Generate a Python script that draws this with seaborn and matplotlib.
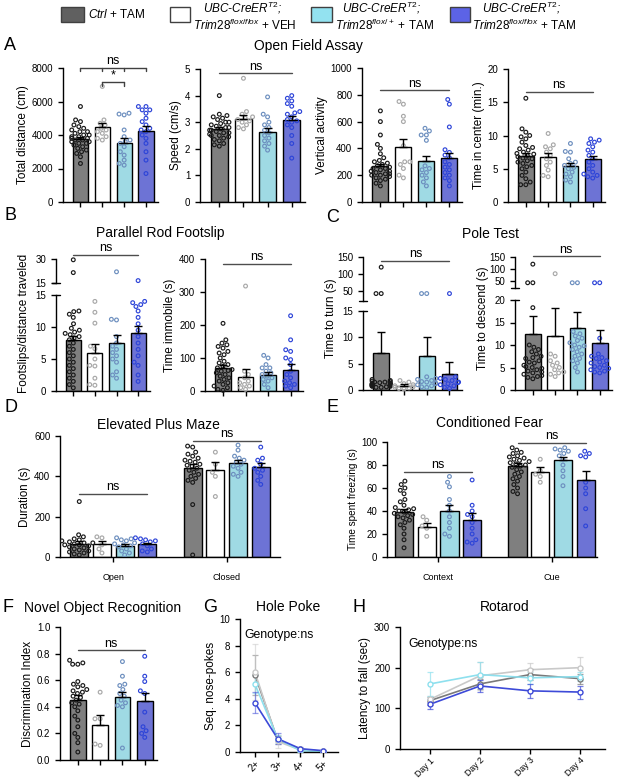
import numpy as np
import pandas as pd
import matplotlib
matplotlib.use("Agg")
import matplotlib.pyplot as plt
from matplotlib.collections import PathCollection
from matplotlib.patches import Rectangle
import seaborn as sns

sns.set_style("ticks")
plt.rcParams['font.family'] = ['Liberation Sans', 'DejaVu Sans']
plt.rcParams['mathtext.fontset'] = 'custom'
plt.rcParams['mathtext.rm'] = 'Liberation Sans'
plt.rcParams['mathtext.it'] = 'Liberation Sans:italic'
plt.rcParams['mathtext.bf'] = 'Liberation Sans:bold'
for k in ['axes.edgecolor', 'xtick.color', 'ytick.color', 'text.color', 'axes.labelcolor']:
    plt.rcParams[k] = 'black'
plt.rcParams['axes.linewidth'] = 1.0
plt.rcParams['xtick.major.width'] = 1.0
plt.rcParams['ytick.major.width'] = 1.0
plt.rcParams['xtick.major.size'] = 3.5
plt.rcParams['ytick.major.size'] = 3.5
plt.rcParams['xtick.labelsize'] = 7
plt.rcParams['ytick.labelsize'] = 7
plt.rcParams['axes.labelsize'] = 8.5
plt.rcParams['axes.labelpad'] = 2

# ---------------- data ----------------
GENO = ["Ctrl", "VEH", "Het", "Hom"]
BAR_COLORS = ["#7f7f7f", "#ffffff", "#93e2f0", "#5c63e6"]
PT_COLORS = ["#1a1a1a", "#a8a8a8", "#6d8fbf", "#2e45d8"]
LINE_COLORS = ["#7a7a7a", "#c9c9c9", "#8ee0ee", "#3d4ad8"]
LEG_COLORS = ["#606060", "#ffffff", "#93e2f0", "#5c63e6"]

# A: Open field
dist_mean = [3750, 4450, 3550, 4250]
dist_sem = [150, 270, 260, 260]
dist_pts = [
    [5700, 4900, 4800, 4600, 4500, 4400, 4300, 4200, 4200, 4100, 4000, 4000, 3900, 3900, 3800,
     3800, 3700, 3700, 3600, 3600, 3500, 3500, 3400, 3300, 3200, 3100, 3000, 2900, 2700, 2300],
    [6900, 4900, 4700, 4600, 4400, 4300, 4200, 4100, 3900, 3800, 3700],
    [5300, 5250, 5200, 4300, 3900, 3700, 3600, 3500, 3300, 3000, 2800, 2500, 2300, 2200],
    [5700, 5700, 5500, 5500, 5300, 5000, 4800, 4600, 4400, 4300, 4200, 4000, 3800, 3500, 3000, 2500, 1700]]

speed_mean = [2.75, 3.12, 2.62, 3.08]
speed_sem = [0.07, 0.15, 0.15, 0.15]
speed_pts = [
    [4.0, 3.3, 3.25, 3.2, 3.15, 3.1, 3.0, 3.0, 2.95, 2.9, 2.85, 2.8, 2.8, 2.75, 2.7, 2.7, 2.65,
     2.6, 2.6, 2.55, 2.5, 2.5, 2.45, 2.4, 2.35, 2.3, 2.2, 2.15, 2.1],
    [4.65, 3.4, 3.3, 3.2, 3.15, 3.1, 3.05, 3.0, 2.9, 2.8, 2.75],
    [3.95, 3.3, 3.2, 3.0, 2.9, 2.8, 2.7, 2.6, 2.5, 2.4, 2.3, 2.2, 2.1, 1.95],
    [4.0, 3.9, 3.8, 3.7, 3.6, 3.4, 3.35, 3.3, 3.2, 3.1, 3.05, 3.0, 2.9, 2.8, 2.5, 2.2, 1.65]]

vert_mean = [266, 408, 303, 328]
vert_sem = [20, 60, 40, 40]
vert_pts = [
    [680, 600, 500, 430, 400, 360, 330, 310, 300, 290, 280, 270, 260, 250, 250, 240, 230, 230,
     220, 210, 210, 200, 200, 190, 180, 170, 160, 140, 120],
    [750, 730, 640, 600, 420, 300, 300, 280, 250, 200, 180],
    [550, 530, 500, 500, 460, 270, 250, 240, 220, 200, 180, 150, 120],
    [765, 730, 560, 390, 370, 350, 330, 300, 280, 260, 240, 220, 200, 180, 160, 120]]

center_mean = [6.9, 6.7, 5.35, 6.5]
center_sem = [0.45, 0.6, 0.45, 0.45]
center_pts = [
    [15.6, 11.0, 10.5, 10.0, 9.8, 9.5, 9.0, 8.5, 8.2, 8.0, 7.8, 7.5, 7.3, 7.2, 7.0, 6.8, 6.6,
     6.5, 6.2, 6.0, 5.8, 5.5, 5.3, 5.0, 4.5, 4.0, 3.5, 3.0, 2.6, 2.6],
    [10.3, 8.6, 8.3, 8.0, 7.5, 7.0, 6.5, 6.0, 5.5, 4.8, 4.0, 3.8],
    [8.8, 7.6, 7.5, 6.5, 6.0, 5.8, 5.5, 5.2, 5.0, 4.5, 4.2, 3.8, 3.3, 3.0],
    [9.5, 9.3, 9.0, 8.8, 8.3, 7.8, 7.5, 7.0, 6.5, 6.0, 5.5, 5.0, 4.5, 4.2, 4.0, 3.8, 3.6]]

# B: Parallel rod footslip
slip_mean = [8.0, 6.0, 7.5, 9.1]
slip_sem = [0.6, 1.35, 1.2, 1.0]
slip_pts = [
    [29.5, 21.5, 12.4, 12.5, 12.0, 11.5, 10.5, 9.8, 9.5, 9.2, 9.0, 8.8, 8.5, 8.3, 8.0, 7.5, 7.0,
     6.5, 6.0, 5.5, 5.0, 4.5, 4.0, 3.5, 3.0, 2.5, 2.0, 1.5, 1.0, 0.5],
    [14.0, 12.3, 10.6, 7.0, 6.6, 5.0, 4.0, 3.9, 2.0, 1.0, 0.9],
    [22.0, 11.2, 11.1, 8.5, 7.5, 7.0, 6.5, 6.0, 5.5, 5.0, 4.5, 3.0, 2.5, 2.0],
    [16.5, 14.0, 13.8, 13.5, 13.2, 12.5, 11.5, 10.5, 9.5, 8.5, 7.5, 6.5, 5.5, 4.5, 4.0, 2.5, 1.5]]

immob_mean = [70, 42, 47, 65]
immob_sem = [10, 26, 10, 18]
immob_pts = [
    [205, 155, 145, 140, 135, 130, 120, 115, 110, 100, 90, 85, 80, 75, 70, 65, 62, 60, 55, 50,
     45, 40, 35, 30, 25, 20, 15, 10, 5, 2],
    [318, 60, 50, 40, 30, 25, 20, 15, 10, 5],
    [108, 100, 80, 70, 70, 60, 55, 50, 45, 40, 35, 30, 20, 10],
    [228, 155, 125, 120, 100, 95, 80, 60, 50, 40, 30, 25, 20, 15, 10]]

# C: Pole test
turn_mean = [7.0, 0.8, 6.4, 3.0]
turn_sem = [4.1, 0.3, 3.7, 2.3]
turn_pts = [
    [120, 42, 42, 2.0, 1.8, 1.7, 1.6, 1.5, 1.5, 1.4, 1.3, 1.2, 1.2, 1.1, 1.0, 1.0, 0.9, 0.9,
     0.8, 0.8, 0.7, 0.7, 0.6, 0.5, 0.5],
    [1.8, 1.5, 1.2, 1.0, 0.8, 0.6, 0.5, 0.4, 0.3, 0.2],
    [42, 42, 2.5, 2.2, 2.0, 1.8, 1.6, 1.5, 1.3, 1.2, 1.0, 0.8, 0.6, 0.5],
    [42, 2.5, 2.2, 2.0, 1.8, 1.5, 1.4, 1.2, 1.0, 0.8, 0.5, 0.3]]

descend_mean = [12.4, 11.9, 13.7, 10.5]
descend_sem = [4.0, 6.3, 3.6, 2.9]
descend_pts = [
    [120, 42, 42, 18.3, 10.0, 9.5, 9.0, 8.5, 8.0, 7.5, 7.2, 7.0, 6.5, 6.2, 6.0, 5.5, 5.2, 5.0,
     4.8, 4.5, 4.2, 4.0, 3.8, 3.5, 3.2, 3.0, 2.8, 2.5],
    [80, 8.0, 7.5, 6.5, 6.0, 5.5, 5.0, 4.5, 4.0, 3.8, 3.5, 3.0],
    [42, 42, 13.0, 12.5, 12.0, 11.5, 11.0, 10.5, 10.0, 9.8, 9.5, 9.0, 8.5, 8.0, 7.5, 7.0, 6.5,
     6.0, 5.0, 4.0],
    [42, 42, 11.5, 8.0, 7.5, 7.2, 7.0, 6.5, 6.2, 6.0, 5.5, 5.2, 5.0, 4.8, 4.5, 4.2, 4.0, 3.8]]

# D: Elevated plus maze
epm_zones = ["Open", "Closed"]
epm_open_mean = [66, 66, 56, 63]
epm_open_sem = [12, 15, 10, 8]
epm_closed_mean = [441, 430, 465, 444]
epm_closed_sem = [20, 40, 15, 20]
epm_open_pts = [
    [275, 110, 100, 90, 85, 80, 75, 70, 70, 65, 60, 60, 55, 50, 45, 40, 35, 30, 25, 20, 15, 10],
    [100, 95, 60, 40, 20],
    [95, 90, 85, 80, 70, 65, 60, 55, 50, 40, 30, 20, 10],
    [95, 90, 85, 80, 75, 65, 55, 40, 30, 25]]
epm_closed_pts = [
    [550, 545, 520, 510, 500, 490, 480, 475, 470, 460, 455, 450, 440, 430, 420, 410, 400, 390,
     380, 370, 260, 10],
    [520, 460, 420, 400, 300],
    [555, 530, 500, 490, 480, 470, 460, 450, 440, 420, 410, 400],
    [545, 490, 480, 460, 440, 430, 420, 400, 380, 360]]

# E: Conditioned fear
fear_zones = ["Context", "Cue"]
fear_context_mean = [39, 26, 40, 32.5]
fear_context_sem = [3, 3.5, 5, 5.5]
fear_cue_mean = [79, 74, 84, 67]
fear_cue_sem = [2.5, 4, 3, 8]
fear_context_pts = [
    [66, 63, 60, 58, 55, 50, 48, 45, 43, 42, 41, 40, 39, 38, 37, 36, 35, 34, 32, 30, 28, 25,
     20, 15, 8],
    [35, 32, 27, 25, 18],
    [70, 65, 61, 50, 45, 40, 35, 30, 25, 20, 18],
    [67, 45, 40, 37, 35, 30, 25, 20, 15, 13, 12]]
fear_cue_pts = [
    [95, 93, 91, 90, 88, 87, 86, 85, 84, 83, 82, 81, 80, 79, 78, 76, 74, 72, 70, 68, 66, 63,
     60, 57, 55],
    [85, 75, 72, 70, 65],
    [95, 94, 93, 92, 90, 88, 85, 80, 75, 70, 62],
    [92, 90, 88, 87, 65, 60, 55, 42, 27]]

# F: Novel object recognition
nor_mean = [0.45, 0.26, 0.47, 0.44]
nor_sem = [0.035, 0.075, 0.045, 0.065]
nor_pts = [
    [0.75, 0.73, 0.72, 0.72, 0.59, 0.57, 0.56, 0.55, 0.53, 0.52, 0.51, 0.50, 0.48, 0.47, 0.45,
     0.43, 0.42, 0.40, 0.37, 0.33, 0.30, 0.25, 0.20, 0.17, 0.13, 0.06],
    [0.51, 0.31, 0.31, 0.12, 0.11],
    [0.74, 0.63, 0.57, 0.56, 0.53, 0.50, 0.48, 0.45, 0.43, 0.41, 0.40, 0.09],
    [0.78, 0.63, 0.59, 0.52, 0.50, 0.36, 0.25, 0.22, 0.20, 0.17]]

# G: Hole poke
poke_x = ["2+", "3+", "4+", "5+"]
poke_mean = [[5.8, 0.9, 0.2, 0.05], [6.0, 0.8, 0.15, 0.05], [5.1, 1.0, 0.1, 0.02], [3.7, 1.0, 0.25, 0.1]]
poke_sem = [[1.5, 0.3, 0.1, 0.05], [2.1, 0.5, 0.1, 0.05], [0.7, 0.3, 0.08, 0.03], [0.8, 0.4, 0.1, 0.05]]

# H: Rotarod
rota_x = ["Day 1", "Day 2", "Day 3", "Day 4"]
rota_mean = [[119, 160, 183, 173], [122, 180, 195, 200], [160, 183, 175, 178], [110, 155, 143, 140]]
rota_sem = [[10, 12, 14, 12], [8, 35, 17, 26], [30, 32, 15, 12], [12, 15, 17, 16]]

# ---------------- helpers ----------------
W, H = 617, 781
fig = plt.figure(figsize=(W / 100, H / 100), dpi=100)
BAR_PAL = dict(zip(GENO, BAR_COLORS))
PT_PAL = dict(zip(GENO, PT_COLORS))
LINE_PAL = dict(zip(GENO, LINE_COLORS))
PT_SIZE = 2.7
XLIM = (-0.8, 3.55)


def add_ax(x0, y0, x1, y1):
    return fig.add_axes([x0 / W, 1 - y1 / H, (x1 - x0) / W, (y1 - y0) / H])


def ftext(x, y, s, **kw):
    kw.setdefault('ha', 'center')
    kw.setdefault('va', 'center')
    return fig.text(x / W, 1 - y / H, s, **kw)


def long_df(pts, groups=GENO):
    rows = [(g, v) for g, vals in zip(groups, pts) for v in vals]
    return pd.DataFrame(rows, columns=['g', 'v'])


def hollow(ax, start):
    for c in ax.collections[start:]:
        if isinstance(c, PathCollection):
            fc = c.get_facecolors()
            if len(fc):
                c.set_edgecolors(fc)
                c.set_facecolors('none')
                c.set_linewidths(0.85)


def draw_points(ax, pts, lo=-np.inf, hi=np.inf):
    df = long_df(pts)
    df = df[(df.v >= lo) & (df.v < hi)]
    n0 = len(ax.collections)
    sns.swarmplot(data=df, x='g', y='v', hue='g', order=GENO, hue_order=GENO, palette=PT_PAL,
                  size=PT_SIZE, ax=ax, legend=False, warn_thresh=1, zorder=3, clip_on=False)
    hollow(ax, n0)


def draw_bars(ax, means, sems):
    sns.barplot(x=GENO, y=means, hue=GENO, order=GENO, hue_order=GENO, palette=BAR_PAL,
                edgecolor='black', linewidth=1.0, width=0.7, errorbar=None, legend=False, ax=ax, zorder=1)
    return sems


def draw_err(ax, xs, means, sems):
    ax.errorbar(xs, means, yerr=[np.zeros(len(sems)), sems], fmt='none', ecolor='black',
                elinewidth=1, capsize=3, capthick=1, zorder=4)


def finish(ax, ylim, yticks, xlim=XLIM, ylabel=None, bottom=True):
    ax.set_ylim(ylim)
    ax.set_yticks(yticks)
    ax.set_xlim(xlim)
    ax.set_xlabel('')
    ax.set_ylabel(ylabel if ylabel else '')
    sns.despine(ax=ax)
    if bottom:
        ax.set_xticks(range(4))
        ax.set_xticklabels([])
    else:
        ax.spines['bottom'].set_visible(False)
        ax.tick_params(axis='x', bottom=False, labelbottom=False)


def ns_line(ax, x0, x1, y, txt='ns', color='0.3', ticks=(), tlen=0, fs=9):
    ax.plot([x0, x1], [y, y], color=color, lw=1, clip_on=False, zorder=5)
    for t in ticks:
        ax.plot([t, t], [y, y - tlen], color=color, lw=1, clip_on=False, zorder=5)
    ax.annotate(txt, ((x0 + x1) / 2, y), xytext=(0, 0.5), textcoords='offset points',
                ha='center', va='bottom', fontsize=fs, annotation_clip=False)


def break_mark(ax, yv, left=True):
    xs = [-0.045 if left else 0, 0.045]
    ax.plot(xs, [yv, yv], transform=ax.get_yaxis_transform(), color='black', lw=1, clip_on=False)


def simple_bar_panel(rect, means, sems, pts, ylim, yticks, ylabel):
    ax = add_ax(*rect)
    draw_bars(ax, means, sems)
    draw_points(ax, pts)
    draw_err(ax, range(4), means, sems)
    finish(ax, ylim, yticks, ylabel=ylabel)
    return ax


def broken_panel(rect_up, rect_lo, means, sems, pts, split, ylim_up, yt_up, ylim_lo, yt_lo, up_break):
    au = add_ax(*rect_up)
    al = add_ax(*rect_lo)
    draw_bars(al, means, sems)
    draw_points(al, pts, hi=split)
    draw_err(al, range(4), means, sems)
    finish(al, ylim_lo, yt_lo)
    draw_points(au, pts, lo=split)
    finish(au, ylim_up, yt_up, bottom=False)
    break_mark(au, up_break, left=True)
    break_mark(al, ylim_lo[1], left=False)
    return au, al


def grouped_panel(rect, zones, means, sems, pts, ylim, yticks, xlim, ylabel, lfs):
    ax = add_ax(*rect)
    mdf = pd.DataFrame([(z, g, m) for z, ms in zip(zones, means) for g, m in zip(GENO, ms)],
                       columns=['zone', 'g', 'v'])
    sns.barplot(data=mdf, x='zone', y='v', hue='g', order=zones, hue_order=GENO, palette=BAR_PAL,
                width=0.8, gap=0.2, errorbar=None, edgecolor='black', linewidth=1.0, legend=False,
                ax=ax, zorder=1)
    pdf = pd.DataFrame([(z, g, v) for z, pz in zip(zones, pts) for g, vals in zip(GENO, pz) for v in vals],
                       columns=['zone', 'g', 'v'])
    n0 = len(ax.collections)
    sns.swarmplot(data=pdf, x='zone', y='v', hue='g', order=zones, hue_order=GENO, dodge=True,
                  palette=PT_PAL, size=PT_SIZE, legend=False, warn_thresh=1, ax=ax, zorder=3)
    hollow(ax, n0)
    for i, (ms, ss) in enumerate(zip(means, sems)):
        draw_err(ax, i + (np.arange(4) - 1.5) * 0.2, ms, ss)
    ax.set_ylim(ylim)
    ax.set_yticks(yticks)
    ax.set_xlim(xlim)
    ax.set_xticks(range(len(zones)))
    ax.set_xticklabels(zones, fontsize=6.5)
    ax.tick_params(axis='x', pad=8)
    ax.set_xlabel('')
    ax.set_ylabel(ylabel, fontsize=lfs)
    sns.despine(ax=ax)
    return ax


def line_panel(rect, xlabels, means, sems, ylim, yticks, xlim, ylabel, ealpha, xfs):
    ax = add_ax(*rect)
    df = pd.DataFrame([(i, m, g) for g, ms in zip(GENO, means) for i, m in enumerate(ms)],
                      columns=['x', 'y', 'g'])
    sns.lineplot(data=df, x='x', y='y', hue='g', hue_order=GENO, palette=LINE_PAL, legend=False,
                 ax=ax, linewidth=1.2)
    for k in range(4):
        ax.errorbar(range(4), means[k], yerr=sems[k], fmt='none', ecolor=LINE_COLORS[k],
                    elinewidth=0.9, capsize=2.5, capthick=0.9, alpha=ealpha, zorder=2)
        ax.plot(range(4), means[k], 'o', ms=3.6, mfc='white', mec=LINE_COLORS[k], mew=1, zorder=4)
    ax.set_ylim(ylim)
    ax.set_yticks(yticks)
    ax.set_xlim(xlim)
    ax.set_xticks(range(4))
    ax.set_xticklabels(xlabels, rotation=45, ha='right', rotation_mode='anchor', fontsize=xfs)
    ax.tick_params(axis='x', pad=1.5)
    ax.set_xlabel('')
    ax.set_ylabel(ylabel)
    sns.despine(ax=ax)
    return ax


# ---------------- Panel A ----------------
a1 = simple_bar_panel((63, 68, 158, 202), dist_mean, dist_sem, dist_pts, (0, 8000),
                      [0, 2000, 4000, 6000, 8000], "Total distance (cm)")
ns_line(a1, 0, 3, 8000, color='0.25', ticks=[0, 1, 2, 3], tlen=200)
ns_line(a1, 1, 2, 7150, txt='*', color='0.25', ticks=[1, 2], tlen=200)
a2 = simple_bar_panel((200, 69, 305, 202), speed_mean, speed_sem, speed_pts, (0, 5),
                      [0, 1, 2, 3, 4, 5], "Speed (cm/s)")
ns_line(a2, 0, 3, 4.84)
a3 = simple_bar_panel((362, 68, 462, 202), vert_mean, vert_sem, vert_pts, (0, 1000),
                      [0, 200, 400, 600, 800, 1000], "Vertical activity")
ns_line(a3, 0, 3, 833)
a4 = simple_bar_panel((508, 69, 605, 202), center_mean, center_sem, center_pts, (0, 20),
                      [0, 5, 10, 15, 20], "Time in center (min.)")
ns_line(a4, 0, 3, 16.6)

# ---------------- Panel B ----------------
b1u, b1l = broken_panel((56, 259, 150, 283), (56, 295, 150, 391), slip_mean, slip_sem, slip_pts,
                        15, (15, 30), [15, 30], (0, 15), [0, 5, 10, 15], 15)
ns_line(b1u, 0, 3, 32.5)
b2 = simple_bar_panel((205, 259, 303, 391), immob_mean, immob_sem, immob_pts, (0, 400),
                      [0, 100, 200, 300, 400], "Time immobile (s)")
ns_line(b2, 0, 3, 386)

# ---------------- Panel C ----------------
c1u, c1l = broken_panel((363, 257, 462, 301), (363, 311, 462, 390), turn_mean, turn_sem, turn_pts,
                        20, (20, 150), [50, 100, 150], (0, 15), [0, 5, 10, 15], 20)
ns_line(c1u, 0, 3, 139)
c2u, c2l = broken_panel((515, 257, 612, 288), (515, 300, 612, 390), descend_mean, descend_sem,
                        descend_pts, 20, (20, 150), [50, 100, 150], (0, 20), [0, 5, 10, 15, 20], 20)
ns_line(c2u, 0, 3, 153)

# ---------------- Panel D ----------------
d = grouped_panel((60, 436, 280, 557), epm_zones, [epm_open_mean, epm_closed_mean],
                  [epm_open_sem, epm_closed_sem], [epm_open_pts, epm_closed_pts], (0, 600),
                  [0, 200, 400, 600], (-0.47, 1.47), "Duration (s)", 8.3)
ns_line(d, -0.3, 0.3, 312)
ns_line(d, 0.7, 1.3, 575)

# ---------------- Panel E ----------------
e = grouped_panel((387, 442, 597, 557), fear_zones, [fear_context_mean, fear_cue_mean],
                  [fear_context_sem, fear_cue_sem], [fear_context_pts, fear_cue_pts], (0, 100),
                  [0, 20, 40, 60, 80, 100], (-0.45, 1.4), "Time spent freezing (s)", 7.2)
ns_line(e, -0.3, 0.3, 74)
ns_line(e, 0.7, 1.3, 99.4)

# ---------------- Panel F ----------------
f = simple_bar_panel((60, 627, 157, 760), nor_mean, nor_sem, nor_pts, (0, 1.0),
                     [0, 0.2, 0.4, 0.6, 0.8, 1.0], "Discrimination Index")
f.set_yticklabels(["0.0", "0.2", "0.4", "0.6", "0.8", "1.0"])
ns_line(f, 0, 3, 0.825)

# ---------------- Panel G / H ----------------
g = line_panel((240, 619, 338, 752), poke_x, poke_mean, poke_sem, (0, 10), [0, 2, 4, 6, 8, 10],
               (-0.66, 3.66), "Seq. nose-pokes", 0.55, 7)
g.text(0.04, 0.88, "Genotype:ns", transform=g.transAxes, fontsize=8.8, ha='left', va='center')
h = line_panel((400, 627, 605, 749), rota_x, rota_mean, rota_sem, (0, 300), [0, 100, 200, 300],
               (-0.6, 3.5), "Latency to fall (sec)", 0.7, 6.3)
h.text(0.04, 0.86, "Genotype:ns", transform=h.transAxes, fontsize=8.8, ha='left', va='center')

# ---------------- broken-axis labels ----------------
ftext(24, 323, "Footslips/distance traveled", rotation=90, fontsize=8.5)
ftext(331, 318, "Time to turn (s)", rotation=90, fontsize=8.5)
ftext(483, 318, "Time to descend (s)", rotation=90, fontsize=8.5)

# ---------------- titles and letters ----------------
LET = dict(fontsize=13, ha='left')
ftext(4, 45, "A", **LET)
ftext(308, 46, "Open Field Assay", fontsize=10)
ftext(5, 216, "B", **LET)
ftext(160, 233, "Parallel Rod Footslip", fontsize=10)
ftext(326, 218, "C", **LET)
ftext(490, 234, "Pole Test", fontsize=10)
ftext(5, 407, "D", **LET)
ftext(158, 425, "Elevated Plus Maze", fontsize=10)
ftext(326, 408, "E", **LET)
ftext(490, 423, "Conditioned Fear", fontsize=10)
ftext(3, 607, "F", **LET)
ftext(103, 608, "Novel Object Recognition", fontsize=10)
ftext(203, 607, "G", **LET)
ftext(288, 607, "Hole Poke", fontsize=10)
ftext(352, 607, "H", **LET)
ftext(505, 607, "Rotarod", fontsize=10)

# ---------------- legend ----------------
LEG_BOX = [(61, 84), (170, 190), (311, 332), (450, 470)]
for (x0, x1), col in zip(LEG_BOX, LEG_COLORS):
    fig.patches.append(Rectangle((x0 / W, 1 - 22 / H), (x1 - x0) / W, 15 / H, transform=fig.transFigure,
                                 facecolor=col, edgecolor='0.25', lw=1.0))
LFS = 8.5
ftext(88, 14, r"$\mathit{Ctrl}$ + TAM", fontsize=LFS, ha='left')
for cx, sup, tail in [(245, "flox/flox", "VEH"), (384, "flox/+", "TAM"), (524, "flox/flox", "TAM")]:
    ftext(cx - 2, 8, r"$\mathit{UBC}$-$\mathit{CreER}^{\mathit{T2}}$;", fontsize=LFS, style='italic')
    ftext(cx, 25, r"$\mathit{Trim28}^{\mathit{" + sup + r"}}$ + " + tail, fontsize=LFS)

fig.savefig("out.png", dpi=100)
